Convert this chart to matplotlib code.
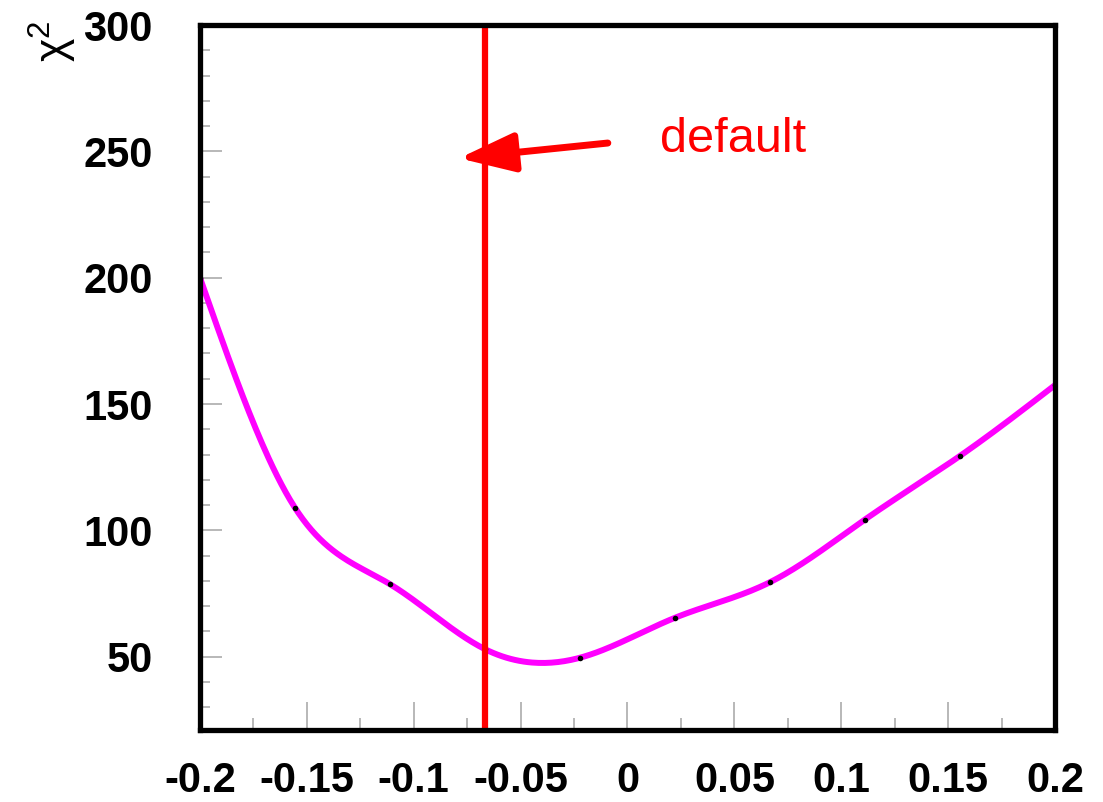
import numpy as np
import matplotlib
matplotlib.use('Agg')
import matplotlib.pyplot as plt
from matplotlib.patches import FancyArrowPatch, ArrowStyle
from matplotlib.ticker import MultipleLocator, FixedLocator

# scan points: parameter value vs chi2
par = [-0.2, -0.1556, -0.1111, -0.0667, -0.0222, 0.0222, 0.0667, 0.1111, 0.1556, 0.2]
chi2 = [200.0, 109.0, 78.7, 53.0, 49.6, 65.4, 79.5, 104.3, 129.5, 157.5]
default_par = -0.0667
xticks = [-0.2, -0.15, -0.1, -0.05, 0, 0.05, 0.1, 0.15, 0.2]
xticklabels = ['-0.2', '-0.15', '-0.1', '-0.05', '0', '0.05', '0.1', '0.15', '0.2']
yticks = [50, 100, 150, 200, 250, 300]


def natural_spline(x, y, n=400):
    # plain natural cubic spline, only used to draw a smooth line through the points
    x = np.asarray(x, float)
    y = np.asarray(y, float)
    m = len(x)
    h = np.diff(x)
    A = np.zeros((m, m))
    b = np.zeros(m)
    A[0, 0] = A[-1, -1] = 1.0
    for i in range(1, m - 1):
        A[i, i - 1] = h[i - 1]
        A[i, i] = 2 * (h[i - 1] + h[i])
        A[i, i + 1] = h[i]
        b[i] = 3 * ((y[i + 1] - y[i]) / h[i] - (y[i] - y[i - 1]) / h[i - 1])
    c = np.linalg.solve(A, b)
    xs = np.linspace(x[0], x[-1], n)
    idx = np.clip(np.searchsorted(x, xs) - 1, 0, m - 2)
    dx = xs - x[idx]
    hi = h[idx]
    bb = (y[idx + 1] - y[idx]) / hi - hi * (2 * c[idx] + c[idx + 1]) / 3
    dd = (c[idx + 1] - c[idx]) / (3 * hi)
    ys = y[idx] + bb * dx + c[idx] * dx ** 2 + dd * dx ** 3
    return xs, ys


plt.rcParams['font.family'] = ['Liberation Sans', 'DejaVu Sans']
plt.rcParams['mathtext.fontset'] = 'custom'
plt.rcParams['mathtext.rm'] = 'Liberation Sans'

fig = plt.figure(figsize=(11.03, 8.02), dpi=100)
ax = fig.add_axes([0.1813, 0.0898, 0.7752, 0.879])

xs, ys = natural_spline(par, chi2)
ax.plot(xs, ys, color='#ff00ff', lw=4.3, solid_capstyle='round', zorder=3)
ax.plot(par, chi2, 'o', color='black', ms=4, mew=0, zorder=4)
ax.axvline(default_par, color='red', lw=4.5, zorder=5)

ax.set_xlim(-0.2, 0.2)
ax.set_ylim(21, 300)

ax.xaxis.set_major_locator(FixedLocator(xticks))
ax.set_xticklabels(xticklabels)
ax.xaxis.set_minor_locator(MultipleLocator(0.025))
ax.yaxis.set_major_locator(FixedLocator(yticks))
ax.yaxis.set_minor_locator(MultipleLocator(10))

for s in ax.spines.values():
    s.set_linewidth(3.8)
    s.set_zorder(6)

ax.tick_params(axis='both', which='both', direction='in', color='#b8b8b8',
               width=1.4, top=False, right=False)
ax.tick_params(axis='x', which='major', length=20, pad=22)
ax.tick_params(axis='x', which='minor', length=9)
ax.tick_params(axis='y', which='major', length=16, pad=34)
ax.tick_params(axis='y', which='minor', length=7)
for lab in ax.get_xticklabels() + ax.get_yticklabels():
    lab.set_fontsize(30)
    lab.set_fontweight('bold')

fig.text(0.048, 0.948, r'$\mathrm{\chi}^2$', rotation=90, fontsize=32,
         ha='center', va='center')

arrow = FancyArrowPatch((0.477, 0.8326), (0.303, 0.811),
                        transform=ax.transAxes,
                        arrowstyle=ArrowStyle('-|>', head_length=34, head_width=12),
                        mutation_scale=1, lw=5, color='red',
                        shrinkA=0, shrinkB=0, zorder=7)
ax.add_patch(arrow)
ax.text(0.538, 0.8199, 'default', transform=ax.transAxes, color='red',
        fontsize=35, ha='left', va='baseline')

fig.savefig('out.png', dpi=100)
